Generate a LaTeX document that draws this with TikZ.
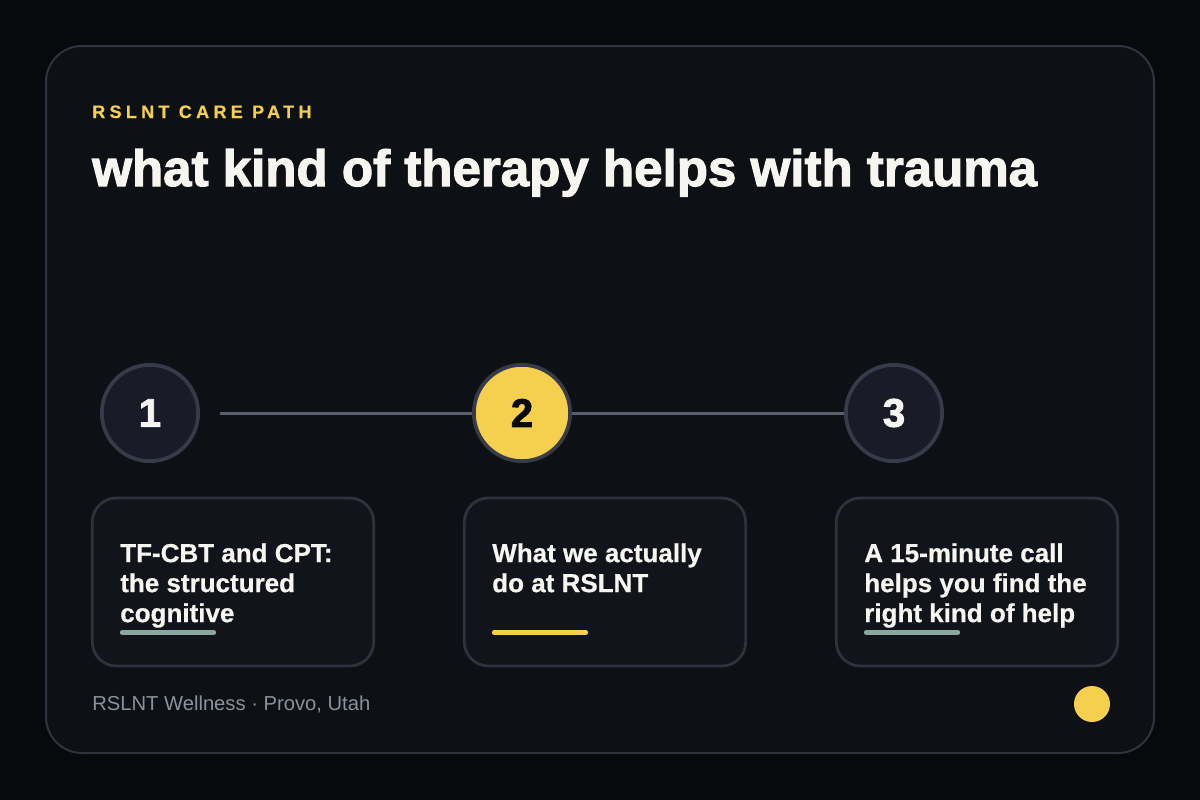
\documentclass[tikz,border=0pt]{standalone}
\usepackage{fontspec}
\setmainfont{Liberation Sans}
\newfontfamily\titlefont[FakeBold=2.2]{Liberation Sans Bold}
\newfontfamily\eyebrowfont[LetterSpace=24,FakeBold=0.6]{Liberation Sans Bold}
\newfontfamily\cardfont[FakeBold=0.6]{Liberation Sans Bold}
\newfontfamily\stepfont[FakeBold=2.2]{Liberation Sans Bold}
\definecolor{pagebg}{HTML}{08090C}
\definecolor{panelbg}{HTML}{0D1014}
\definecolor{panelline}{HTML}{2F3340}
\definecolor{cardbg}{HTML}{11141B}
\definecolor{cardline}{HTML}{2E323D}
\definecolor{stepbg}{HTML}{191C26}
\definecolor{stepline}{HTML}{373B49}
\definecolor{linkline}{HTML}{5A5F6C}
\definecolor{accent}{HTML}{F5D04E}
\definecolor{sage}{HTML}{8CA69E}
\definecolor{paper}{HTML}{F6F5EF}
\definecolor{muted}{HTML}{8C919E}
\tikzset{
  stepnode/.style={circle,draw=stepline,fill=stepbg,line width=2.8pt,minimum size=72.2pt,inner sep=0pt,
    text=paper,font=\stepfont\fontsize{30}{32}\selectfont},
  stepcur/.style={stepnode,fill=accent,text=pagebg},
  cardbox/.style={draw=cardline,fill=cardbg,line width=2.1pt,rounded corners=18pt,minimum width=211pt,minimum height=126pt,inner sep=0pt},
  cardtext/.style={anchor=north west,inner sep=0pt,align=left,text=paper,font=\cardfont\fontsize{19.5}{22.5}\selectfont},
  barnode/.style={rounded corners=1.5pt,minimum width=72pt,minimum height=3.6pt,inner sep=0pt},
  linkline/.style={line width=2.6pt,draw=linkline},
}
\begin{document}
\begin{tikzpicture}[x=0.75pt,y=-0.75pt]
  \useasboundingbox (0,0) rectangle (1200,800);
  \fill[pagebg] (0,0) rectangle (1200,800);
  \filldraw[draw=panelline,fill=panelbg,line width=1.5pt,rounded corners=27pt] (46,46) rectangle (1154,753);

  % heading
  \node[anchor=base west,inner sep=0pt,text=accent,font=\eyebrowfont\fontsize{13.5}{16}\selectfont] (eyebrow) at (92,118) {RSLNT CARE PATH};
  \node[anchor=base west,inner sep=0pt,text=paper,font=\titlefont\fontsize{38.3}{42}\selectfont] (title) at (92,186) {what kind of therapy helps with trauma};

  % steps
  \coordinate (linkstart) at (220,413.5);
  \draw[linkline] (linkstart) -- (522,413.5);
  \draw[linkline] (522,413.5) -- (894,413.5);
  \node[stepnode] (step1) at (150,413) {1};
  \node[stepcur] (step2) at (522,413) {2};
  \node[stepnode] (step3) at (894,413) {3};

  % cards
  \node[cardbox] (card1) at (233,582) {};
  \node[cardbox] (card2) at (605,582) {};
  \node[cardbox] (card3) at (977,582) {};

  \node[cardtext] (text1) at (120,543) {TF-CBT and CPT:\\the structured\\cognitive};
  \node[cardtext] (text2) at (492,543) {What we actually\\do at RSLNT};
  \node[cardtext] (text3) at (864,543) {A 15-minute call\\helps you find the\\right kind of help};

  \node[barnode,fill=sage] (bar1) at (168,632.5) {};
  \node[barnode,fill=accent] (bar2) at (540,632.5) {};
  \node[barnode,fill=sage] (bar3) at (912,632.5) {};

  % footer
  \node[anchor=base west,inner sep=0pt,text=muted,font=\fontsize{15.15}{18}\selectfont] (footer) at (92,710) {RSLNT Wellness · Provo, Utah};
  \node[circle,fill=accent,minimum size=27pt,inner sep=0pt] (dot) at (1092,704) {};
\end{tikzpicture}
\end{document}
